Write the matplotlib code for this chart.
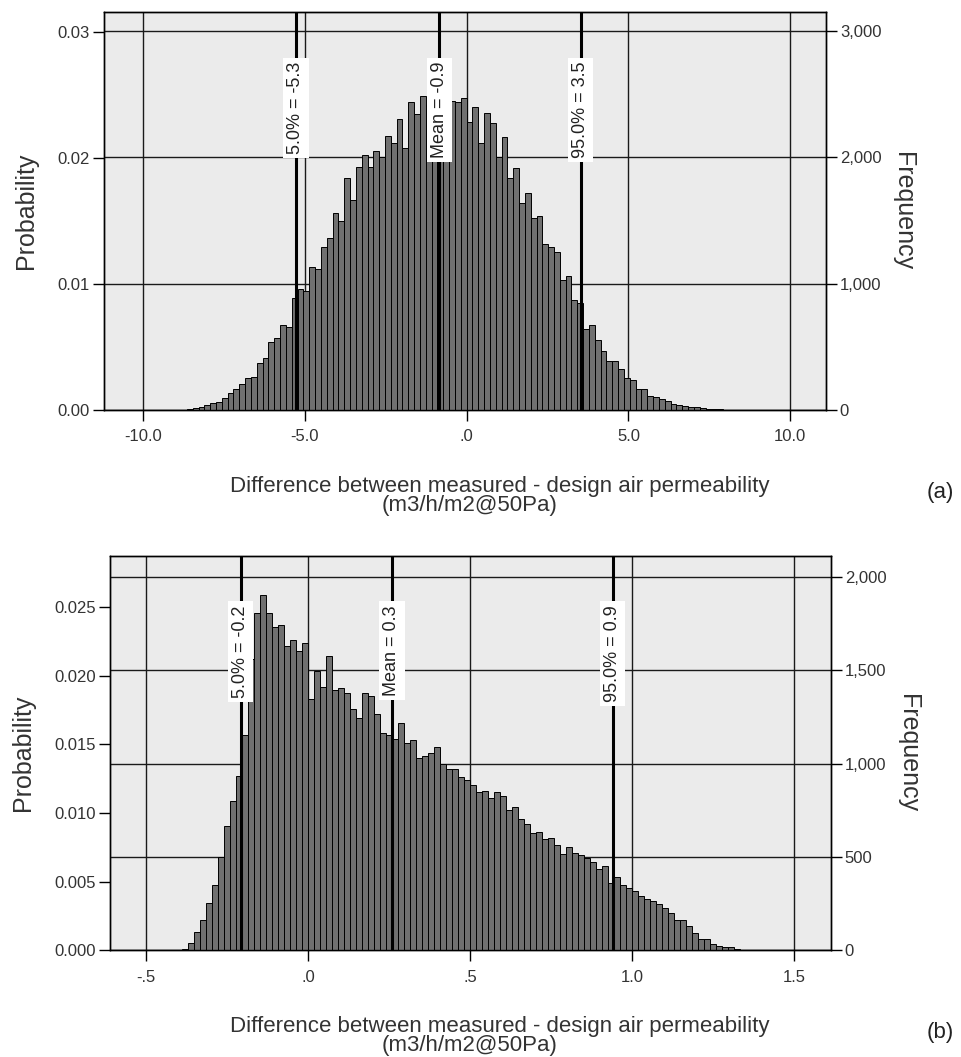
import numpy as np
import matplotlib
matplotlib.use("Agg")
import matplotlib.pyplot as plt
from matplotlib import ticker

plt.rcParams['font.family'] = ['Liberation Sans', 'DejaVu Sans']

# ---- panel (a): frequencies per bin, bin width 0.18, first edge -8.64
start_a = -8.64
width_a = 0.18
freq_a = [11, 13, 21, 40, 53, 63, 92, 132, 166, 206,
          251, 264, 369, 409, 536, 567, 673, 654, 884, 955,
          945, 1135, 1116, 1288, 1359, 1557, 1493, 1834, 1662, 1921,
          2016, 1921, 2053, 2000, 2169, 2111, 2303, 2074, 2438, 2340,
          2485, 2420, 2390, 2460, 2410, 2445, 2440, 2472, 2280, 2401,
          2111, 2350, 2269, 2000, 2158, 1834, 1918, 1636, 1715, 1517,
          1533, 1316, 1290, 1253, 1031, 1061, 871, 845, 642, 673,
          556, 470, 390, 385, 323, 251, 240, 170, 168, 108,
          100, 84, 68, 47, 40, 33, 26, 22, 13, 11, 8, 5]
ref_a = [-5.27, -0.84, 3.52]
ref_labels_a = ['5.0% = -5.3', 'Mean = -0.9', '95.0% = 3.5']
xticks_a = [-10, -5, 0, 5, 10]
xlim_a = (-11.2, 11.1)
prob_ticks_a = [0.0, 0.01, 0.02, 0.03]
freq_ticks_a = [0, 1000, 2000, 3000]
freq_top_a = 3151

# ---- panel (b): bin width 0.5/27, first edge -21 bins
width_b = 0.5 / 27
start_b = -21 * width_b
freq_b = [7, 41, 100, 163, 252, 350, 498, 668, 802, 936,
          1154, 1560, 1809, 1904, 1809, 1734, 1743, 1630, 1663, 1605, 1648,
          1345, 1496, 1413, 1579, 1395, 1404, 1380, 1291, 1243, 1377,
          1363, 1266, 1163, 1154, 1130, 1216, 1113, 1127, 1032, 1043,
          1055, 1088, 996, 971, 971, 927, 913, 886, 850, 855,
          814, 846, 829, 752, 766, 702, 675, 627, 636, 595,
          604, 564, 516, 555, 523, 511, 496, 475, 434, 452,
          363, 395, 350, 332, 320, 291, 275, 264, 248, 225,
          202, 163, 163, 130, 95, 61, 61, 32, 23, 16, 16, 7]
ref_b = [-0.208, 0.259, 0.940]
ref_labels_b = ['5.0% = -0.2', 'Mean = 0.3', '95.0% = 0.9']
xticks_b = [-0.5, 0.0, 0.5, 1.0, 1.5]
xlim_b = (-0.611, 1.614)
prob_ticks_b = [0.0, 0.005, 0.010, 0.015, 0.020, 0.025]
freq_ticks_b = [0, 500, 1000, 1500, 2000]
freq_top_b = 2112

xlabel_1 = 'Difference between measured - design air permeability'
xlabel_2 = '(m3/h/m2@50Pa)'
text_color = '#333333'


def spss_fmt(v, pos=None):
    s = f"{v:.1f}"
    if s.startswith("0."):
        s = s[1:]
    elif s.startswith("-0."):
        s = "-" + s[2:]
    return s


def panel(rect, start, width, freq, refs, ref_labels, xticks, xlim,
          prob_ticks, prob_fmt, freq_ticks, freq_top, tag):
    ax = fig.add_axes(rect)
    ax.set_facecolor('#ebebeb')
    ax2 = ax.twinx()
    freq = np.array(freq)
    total = freq.sum()
    edges = start + width * np.arange(len(freq))

    ax2.bar(edges, freq, width=width, align='edge', color='#707070',
            edgecolor='black', linewidth=0.7, zorder=2)
    ax2.set_axisbelow(True)
    ax2.set_ylim(0, freq_top)
    ax.set_ylim(0, freq_top / total)
    ax.set_xlim(*xlim)

    ax.set_xticks(xticks)
    ax.xaxis.set_major_formatter(ticker.FuncFormatter(spss_fmt))
    ax.set_yticks(prob_ticks)
    ax.yaxis.set_major_formatter(ticker.FormatStrFormatter(prob_fmt))
    ax2.set_yticks(freq_ticks)
    ax2.yaxis.set_major_formatter(ticker.FuncFormatter(lambda v, p: f"{int(v):,}"))

    ax.xaxis.grid(True, color='#1a1a1a', linewidth=1.0)
    ax2.yaxis.grid(True, color='#1a1a1a', linewidth=1.0)

    for a in (ax, ax2):
        a.tick_params(direction='out', length=8, width=1.0, labelsize=12,
                      colors='black', labelcolor=text_color, pad=2)
        for sp in a.spines.values():
            sp.set_color('black')
            sp.set_linewidth(1.0)
    ax.tick_params(axis='x', pad=6)

    for x, lab in zip(refs, ref_labels):
        ax2.axvline(x, color='black', linewidth=2.2, zorder=3)
        ax2.text(x, 0.875, lab, rotation=90, ha='center', va='top',
                 fontsize=13, color='#222222', transform=ax2.get_xaxis_transform(),
                 zorder=4, bbox=dict(facecolor='white', edgecolor='none', pad=3))

    ax.set_ylabel('Probability', fontsize=18, color=text_color, labelpad=14)
    ax2.set_ylabel('Frequency', fontsize=18, color=text_color, rotation=270, labelpad=24)

    # two-line axis title below the tick labels, and the panel tag at the right
    bottom_px = (1 - rect[1]) * 1057
    fig.text(500 / 962, 1 - (bottom_px + 76) / 1057, xlabel_1, fontsize=16,
             ha='center', va='center', color=text_color)
    fig.text(470 / 962, 1 - (bottom_px + 95) / 1057, xlabel_2, fontsize=16,
             ha='center', va='center', color=text_color)
    fig.text(0.992, 1 - (bottom_px + 82) / 1057, tag, fontsize=16,
             ha='right', va='center', color='#222222')
    return ax


fig = plt.figure(figsize=(9.62, 10.57), dpi=100)

panel([0.1081, 0.6121, 0.7505, 0.3765], start_a, width_a, freq_a, ref_a, ref_labels_a,
      xticks_a, xlim_a, prob_ticks_a, '%.2f', freq_ticks_a, freq_top_a, '(a)')
panel([0.1143, 0.1008, 0.7495, 0.3732], start_b, width_b, freq_b, ref_b, ref_labels_b,
      xticks_b, xlim_b, prob_ticks_b, '%.3f', freq_ticks_b, freq_top_b, '(b)')

fig.savefig('out.png', dpi=100)
